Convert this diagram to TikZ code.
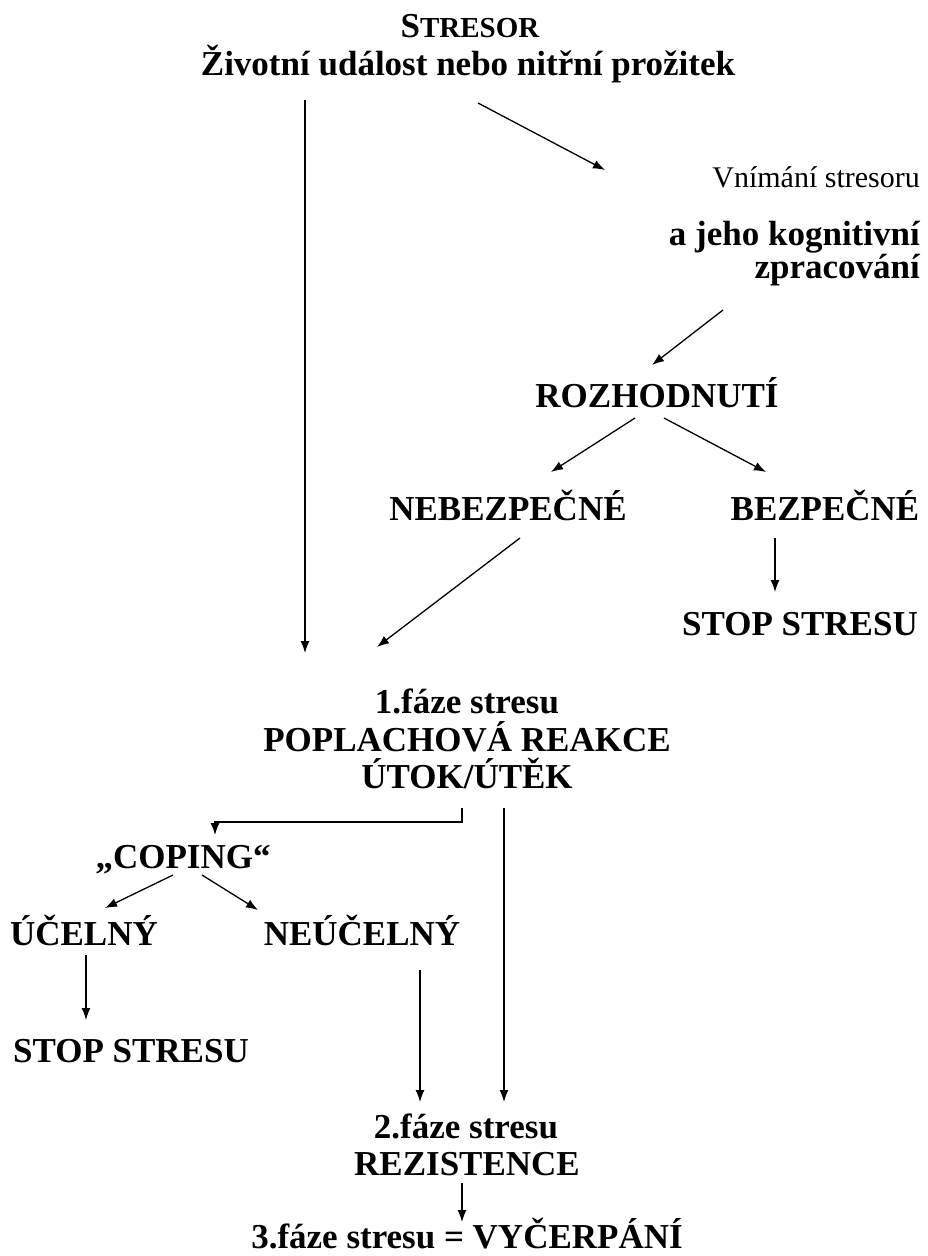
\documentclass[tikz,border=0pt]{standalone}
\usepackage{fontspec}
\setmainfont{Liberation Serif}
\usetikzlibrary{arrows.meta,calc}
\begin{document}
\begin{tikzpicture}[x=1pt,y=-1pt]
\tikzset{txt/.style={font=\fontsize{35}{37}\selectfont\bfseries,inner sep=0pt,anchor=base}}
\tikzset{arr/.style={-{Latex[length=12pt,width=9pt]},line width=1.3pt}}
\useasboundingbox (0,0) rectangle (928,1256);
%stressor
\node[txt] (stresor) at (470,37) {S{\fontsize{29}{30}\selectfont TRESOR}};
\node[txt] (zivot) at (468,75) {Životní událost nebo nitřní prožitek};
%perception
\node[txt,font=\fontsize{30}{32}\selectfont,anchor=base east] (vnim) at (920,187) {Vnímání stresoru};
\node[txt,anchor=base east] (kogn) at (920,245) {a jeho kognitivní};
\node[txt,anchor=base east] (zprac) at (920,278) {zpracování};
%decision
\node[txt] (rozh) at (657,407) {ROZHODNUTÍ};
\node[txt] (nebez) at (508,520) {NEBEZPEČNÉ};
\node[txt] (bezp) at (825,520) {BEZPEČNÉ};
\node[txt] (stopa) at (800,635) {STOP STRESU};
%phase 1
\node[txt] (fazea) at (467,713) {1.fáze stresu};
\node[txt] (fazeb) at (467,751) {POPLACHOVÁ REAKCE};
\node[txt] (fazec) at (467,788) {ÚTOK/ÚTĚK};
%coping
\node[txt] (coping) at (183,868) {„COPING“};
\node[txt] (ucel) at (84,945) {ÚČELNÝ};
\node[txt] (neucel) at (362,945) {NEÚČELNÝ};
\node[txt] (stopb) at (131,1062) {STOP STRESU};
%phases 2 and 3
\node[txt] (rezia) at (466,1138) {2.fáze stresu};
\node[txt] (rezib) at (467,1175) {REZISTENCE};
\node[txt] (vycerp) at (467,1248) {3.fáze stresu = VYČERPÁNÍ};
%arrows
\draw[arr] ($(zivot.base)+(-163,25)$) -- ($(fazea.base)+(-162,-60)$);
\draw[arr] ($(zivot.base)+(10,28)$) -- ($(vnim.base east)+(-315,-17)$);
\draw[arr] ($(zprac.base east)+(-197,32)$) -- ($(rozh.base)+(-5,-42)$);
\draw[arr] ($(rozh.base)+(-22,11)$) -- ($(nebez.base)+(43,-48)$);
\draw[arr] ($(rozh.base)+(7,11)$) -- ($(bezp.base)+(-59,-48)$);
\draw[arr] ($(nebez.base)+(12,18)$) -- ($(fazea.base)+(-90,-66)$);
\draw[arr] ($(bezp.base)+(-50,18)$) -- ($(stopa.base)+(-25,-43)$);
\draw[arr] ($(fazec.base)+(-5,20)$) -- ++(0,14) -| ($(coping.base)+(32,-33)$);
\draw[arr] ($(fazec.base)+(37,20)$) -- ($(rezia.base)+(38,-36)$);
\draw[arr] ($(coping.base)+(-10,7)$) -- ($(ucel.base)+(21,-37)$);
\draw[arr] ($(coping.base)+(19,7)$) -- ($(neucel.base)+(-104,-35)$);
\draw[arr] ($(ucel.base)+(2,10)$) -- ($(stopb.base)+(-45,-42)$);
\draw[arr] ($(neucel.base)+(58,25)$) -- ($(rezia.base)+(-46,-36)$);
\draw[arr] ($(rezib.base)+(-5,8)$) -- ($(vycerp.base)+(-5,-26)$);
\end{tikzpicture}
\end{document}
